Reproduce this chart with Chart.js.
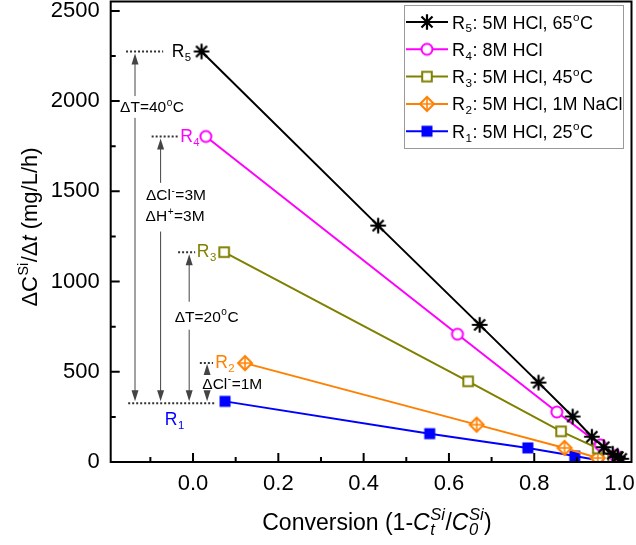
<!DOCTYPE html>
<html>
<head>
<meta charset="utf-8">
<script src="https://cdn.jsdelivr.net/npm/chart.js@4"></script>
<style>body{margin:0;background:#fff}</style>
</head>
<body>
<canvas id="myChart" width="636" height="545"></canvas>
<script>
const FONT = '"Liberation Sans", Arial, sans-serif';

// conversion vs dissolution rate, one pair of arrays per run
const r5_x = [0.020, 0.434, 0.672, 0.810, 0.890, 0.935, 0.963, 0.984, 0.996, 1.004];
const r5_y = [2275, 1310, 760, 440, 252, 140, 82, 46, 28, 18];
const r4_x = [0.030, 0.620, 0.853, 0.955, 0.990];
const r4_y = [1804, 708, 277, 95, 35];
const r3_x = [0.073, 0.645, 0.863, 0.949, 0.985];
const r3_y = [1163, 447, 170, 75, 25];
const r2_x = [0.122, 0.665, 0.871, 0.949];
const r2_y = [548, 207, 78, 22];
const r1_x = [0.075, 0.555, 0.785, 0.895, 0.950];
const r1_y = [336, 157, 78, 33, 10];

const xTicks = [0, 0.2, 0.4, 0.6, 0.8, 1.0];
const xMinor = [-0.1, 0.1, 0.3, 0.5, 0.7, 0.9];
const yTicks = [0, 500, 1000, 1500, 2000, 2500];
const yMinor = [250, 750, 1250, 1750, 2250];

const legendTexts = [
    ['R', {sub: '5'}, ': 5M HCl, 65', {sup: 'o'}, 'C'],
    ['R', {sub: '4'}, ': 8M HCl'],
    ['R', {sub: '3'}, ': 5M HCl, 45', {sup: 'o'}, 'C'],
    ['R', {sub: '2'}, ': 5M HCl, 1M NaCl'],
    ['R', {sub: '1'}, ': 5M HCl, 25', {sup: 'o'}, 'C']
];

function makeMarker(kind, color) {
    const c = document.createElement('canvas');
    c.width = 22; c.height = 22;
    const g = c.getContext('2d');
    g.strokeStyle = color; g.fillStyle = '#fff'; g.lineWidth = 2;
    g.translate(11, 11);
    if (kind === 'star') {
        g.beginPath();
        for (let i = 0; i < 4; i++) {
            const a = i * Math.PI / 4;
            g.moveTo(-7.8 * Math.cos(a), -7.8 * Math.sin(a));
            g.lineTo(7.8 * Math.cos(a), 7.8 * Math.sin(a));
        }
        g.lineWidth = 2.2;
        g.stroke();
    } else if (kind === 'circle') {
        g.beginPath(); g.arc(0, 0, 5.5, 0, Math.PI * 2); g.fill(); g.stroke();
    } else if (kind === 'square') {
        g.fillRect(-4.8, -4.8, 9.6, 9.6); g.strokeRect(-4.8, -4.8, 9.6, 9.6);
    } else if (kind === 'diamond') {
        g.beginPath();
        g.moveTo(0, -7); g.lineTo(7, 0); g.lineTo(0, 7); g.lineTo(-7, 0); g.closePath();
        g.fill(); g.stroke();
        g.beginPath(); g.moveTo(0, -7); g.lineTo(0, 7); g.moveTo(-7, 0); g.lineTo(7, 0);
        g.lineWidth = 1.5; g.stroke();
    } else {
        g.fillStyle = color; g.fillRect(-5.5, -5.5, 11, 11);
    }
    return c;
}

const runs = [
    {x: r5_x, y: r5_y, color: '#000000', marker: makeMarker('star', '#000000')},
    {x: r4_x, y: r4_y, color: '#ff00ff', marker: makeMarker('circle', '#ff00ff')},
    {x: r3_x, y: r3_y, color: '#808000', marker: makeMarker('square', '#808000')},
    {x: r2_x, y: r2_y, color: '#ff8000', marker: makeMarker('diamond', '#ff8000')},
    {x: r1_x, y: r1_y, color: '#0000ff', marker: makeMarker('fill', '#0000ff')}
];

// text with sub/superscripts; y is the baseline
function drawRich(ctx, parts, x, y, size, color, align, ratio) {
    const small = size * (ratio || 0.65);
    const segs = parts.map(p => typeof p === 'string' ? {t: p} : p);
    const fnt = (s, sz) => (s.it ? 'italic ' : '') + sz + 'px ' + FONT;
    const widths = segs.map(s => {
        if (s.t !== undefined) { ctx.font = fnt(s, size); return ctx.measureText(s.t).width; }
        ctx.font = fnt(s, small);
        return Math.max(s.sub ? ctx.measureText(s.sub).width : 0, s.sup ? ctx.measureText(s.sup).width : 0) + 1;
    });
    const total = widths.reduce((a, b) => a + b, 0);
    let cx = align === 'center' ? x - total / 2 : align === 'right' ? x - total : x;
    ctx.fillStyle = color;
    ctx.textAlign = 'left';
    ctx.textBaseline = 'alphabetic';
    segs.forEach((s, i) => {
        if (s.t !== undefined) {
            ctx.font = fnt(s, size); ctx.fillText(s.t, cx, y);
        } else {
            ctx.font = fnt(s, small);
            if (s.sub) ctx.fillText(s.sub, cx + 0.5, y + size * 0.22);
            if (s.sup) ctx.fillText(s.sup, cx + 0.5, y - size * 0.42);
        }
        cx += widths[i];
    });
}

function arrowHead(ctx, px, tip, dir) {
    ctx.beginPath();
    ctx.moveTo(px, tip);
    ctx.lineTo(px - 3.5, tip - dir * 11);
    ctx.lineTo(px + 3.5, tip - dir * 11);
    ctx.closePath();
    ctx.fill();
}

const decor = {
    id: 'decor',
    afterDatasetsDraw(chart) {
        const {ctx, chartArea: a, scales: {x, y}} = chart;
        ctx.save();
        ctx.strokeStyle = '#000';
        ctx.lineWidth = 2;
        ctx.strokeRect(a.left, a.top, a.right - a.left, a.bottom - a.top);
        ctx.beginPath();
        xTicks.forEach(v => { const p = x.getPixelForValue(v); ctx.moveTo(p, a.bottom); ctx.lineTo(p, a.bottom - 9); });
        xMinor.forEach(v => { const p = x.getPixelForValue(v); ctx.moveTo(p, a.bottom); ctx.lineTo(p, a.bottom - 5); });
        yTicks.forEach(v => { const p = y.getPixelForValue(v); ctx.moveTo(a.left, p); ctx.lineTo(a.left + 9, p); });
        yMinor.forEach(v => { const p = y.getPixelForValue(v); ctx.moveTo(a.left, p); ctx.lineTo(a.left + 5, p); });
        ctx.stroke();

        // reference levels taken from the first point of each run
        const lv = [r1_y[0], r2_y[0], r3_y[0], r4_y[0], r5_y[0]].map(v => y.getPixelForValue(v));
        const X = v => x.getPixelForValue(v);
        ctx.strokeStyle = '#333';
        ctx.lineWidth = 2;
        ctx.setLineDash([2, 2]);
        ctx.beginPath();
        ctx.moveTo(X(-0.152), lv[0] + 2); ctx.lineTo(X(0.052), lv[0] + 2);
        ctx.moveTo(X(0.016), lv[1]); ctx.lineTo(X(0.047), lv[1]);
        ctx.moveTo(X(-0.035), lv[2]); ctx.lineTo(X(0.005), lv[2]);
        ctx.moveTo(X(-0.097), lv[3]); ctx.lineTo(X(-0.034), lv[3]);
        ctx.moveTo(X(-0.157), lv[4]); ctx.lineTo(X(-0.070), lv[4]);
        ctx.stroke();
        ctx.setLineDash([]);

        ctx.strokeStyle = '#444';
        ctx.fillStyle = '#444';
        ctx.lineWidth = 1;
        const arrows = [
            {xv: -0.136, top: lv[4], gap: [2028, 1907]},
            {xv: -0.076, top: lv[3], gap: [1547, 1277]},
            {xv: -0.009, top: lv[2], gap: [888, 733]}
        ];
        arrows.forEach(ar => {
            const px = X(ar.xv);
            const bot = lv[0];
            const tip = ar.top + 2;
            ctx.beginPath();
            ctx.moveTo(px, tip + 10); ctx.lineTo(px, y.getPixelForValue(ar.gap[0]));
            ctx.moveTo(px, y.getPixelForValue(ar.gap[1])); ctx.lineTo(px, bot - 10);
            ctx.stroke();
            arrowHead(ctx, px, tip, -1);
            arrowHead(ctx, px, bot, 1);
        });
        const p4 = X(0.033);
        arrowHead(ctx, p4, lv[1] + 1, -1);
        arrowHead(ctx, p4, lv[0], 1);

        const fs = 15.5;
        drawRich(ctx, ['ΔT=40', {sup: 'o'}, 'C'], X(-0.096), y.getPixelForValue(1970) + fs * 0.36, fs, '#000', 'center');
        drawRich(ctx, ['ΔCl', {sup: '-'}, '=3M'], X(-0.040), y.getPixelForValue(1481) + fs * 0.36, fs, '#000', 'center');
        drawRich(ctx, ['ΔH', {sup: '+'}, '=3M'], X(-0.042), y.getPixelForValue(1365) + fs * 0.36, fs, '#000', 'center');
        drawRich(ctx, ['ΔT=20', {sup: 'o'}, 'C'], X(0.032), y.getPixelForValue(807) + fs * 0.36, fs, '#000', 'center');
        drawRich(ctx, ['ΔCl', {sup: '-'}, '=1M'], X(0.092), y.getPixelForValue(438) + fs * 0.36, fs, '#000', 'center');

        const rs = 17.5;
        drawRich(ctx, ['R', {sub: '5'}], X(-0.05), lv[4] + rs * 0.3, rs, '#000', 'left');
        drawRich(ctx, ['R', {sub: '4'}], X(-0.030), lv[3] + rs * 0.3, rs, '#ff00ff', 'left');
        drawRich(ctx, ['R', {sub: '3'}], X(0.009), lv[2] + rs * 0.3, rs, '#808000', 'left');
        drawRich(ctx, ['R', {sub: '2'}], X(0.052), lv[1] + rs * 0.3, rs, '#ff8000', 'left');
        drawRich(ctx, ['R', {sub: '1'}], X(-0.066), y.getPixelForValue(234) + rs * 0.3, rs, '#0000ff', 'left');
        ctx.restore();
    },
    afterDraw(chart) {
        const {ctx} = chart;
        ctx.save();
        // legend
        ctx.strokeStyle = '#999';
        ctx.lineWidth = 1;
        ctx.fillStyle = '#fff';
        ctx.fillRect(404, 5, 219, 143);
        ctx.strokeRect(404.5, 5.5, 219, 143);
        runs.forEach((r, i) => {
            const cy = 22 + i * 27.3;
            ctx.strokeStyle = r.color;
            ctx.lineWidth = 2;
            ctx.beginPath(); ctx.moveTo(406, cy); ctx.lineTo(448, cy); ctx.stroke();
            ctx.drawImage(r.marker, 427 - 11, cy - 11);
            drawRich(ctx, legendTexts[i], 452, cy + 6.5, 18, '#000', 'left');
        });
        // axis titles
        drawRich(ctx, ['Conversion (1-', {t: 'C', it: true}, {sub: 't', sup: 'Si', it: true}, '/', {t: 'C', it: true}, {sub: '0', sup: 'Si', it: true}, ')'],
            377, 530, 23, '#000', 'center', 0.72);
        ctx.translate(37, 227);
        ctx.rotate(-Math.PI / 2);
        drawRich(ctx, ['ΔC', {sup: 'Si'}, '/Δ', {t: 't', it: true}, ' (mg/L/h)'], 0, 0, 22, '#000', 'center');
        ctx.restore();
    }
};

const ctx = document.getElementById('myChart').getContext('2d');
const myChart = new Chart(ctx, {
    type: 'scatter',
    data: {
        datasets: runs.map(r => ({
            data: r.x.map((v, i) => ({x: v, y: r.y[i]})),
            showLine: true,
            borderColor: r.color,
            borderWidth: 2,
            pointStyle: r.marker,
            pointRadius: 8,
            pointHoverRadius: 8
        }))
    },
    options: {
        responsive: false,
        animation: false,
        events: [],
        layout: {autoPadding: false, padding: {top: 1.5, right: 4.5, left: 0, bottom: 0}},
        plugins: {legend: {display: false}, tooltip: {enabled: false}},
        scales: {
            x: {
                type: 'linear', min: -0.193, max: 1.028,
                grid: {display: false, drawTicks: false},
                border: {display: false},
                ticks: {font: {family: FONT, size: 22}, color: '#000', padding: 9, callback: v => v.toFixed(1)},
                afterBuildTicks: s => { s.ticks = xTicks.map(v => ({value: v})); },
                afterFit: s => { s.height = 83; s.paddingLeft = 0; s.paddingRight = 0; }
            },
            y: {
                type: 'linear', min: 0, max: 2552,
                grid: {display: false, drawTicks: false},
                border: {display: false},
                ticks: {font: {family: FONT, size: 22}, color: '#000', padding: 11, callback: v => String(v)},
                afterBuildTicks: s => { s.ticks = yTicks.map(v => ({value: v})); },
                afterFit: s => { s.width = 110.7; s.paddingTop = 0; s.paddingBottom = 0; }
            }
        }
    },
    plugins: [decor]
});
</script>
</body>
</html>
